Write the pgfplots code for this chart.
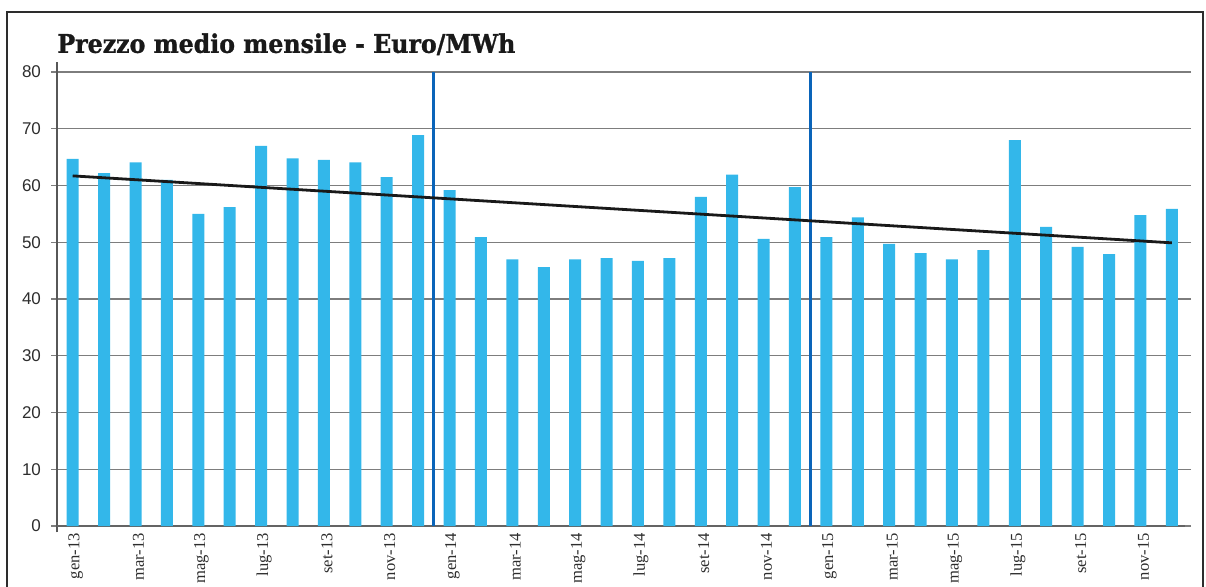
\documentclass[border=0pt]{standalone}
\usepackage{pgfplots}
\pgfplotsset{compat=1.18}
\usepackage{graphicx}
\usepackage{fontspec}
\setmainfont{Liberation Serif}
\newfontfamily\sansf{Liberation Sans}
\newfontfamily\titlef{DejaVu Serif}[BoldFeatures={FakeBold=1.2}]
\definecolor{barc}{RGB}{51,183,234}
\definecolor{vblue}{RGB}{10,100,185}
\definecolor{gridc}{RGB}{125,125,125}
\definecolor{txt}{RGB}{45,45,45}
\begin{document}
\begin{tikzpicture}
\useasboundingbox (0,0) rectangle (603pt,293pt);
\clip (0,0) rectangle (603pt,293pt);
\draw[txt, line width=0.6pt] (3.5pt,-5pt) -- (3.5pt,287pt) -- (601.5pt,287pt) -- (601.5pt,-5pt);
\node[anchor=base west, inner sep=0pt, text=black!90] at (28.5pt,266.6pt)
  {\resizebox{229pt}{\height}{\titlef\bfseries\fontsize{12.8pt}{14pt}\selectfont Prezzo medio mensile - Euro/MWh}};
\begin{axis}[
  at={(28.5pt,30pt)}, anchor=south west,
  scale only axis, width=564pt, height=227pt,
  xmin=-0.5, xmax=35.42, ymin=0, ymax=80,
  axis line style={draw=none},
  clip=false,
  ytick={0,10,...,80},
  ymajorgrids,
  grid style={gridc, line width=0.6pt},
  tick align=outside,
  major tick length=3pt,
  ytick style={gridc, line width=0.6pt},
  xtick={0,2,...,34},
  xticklabels={gen-13,mar-13,mag-13,lug-13,set-13,nov-13,gen-14,mar-14,mag-14,lug-14,set-14,nov-14,gen-15,mar-15,mag-15,lug-15,set-15,nov-15},
  xtick style={draw=none},
  xticklabel style={xshift=1.5pt, yshift=3pt, rotate=90, anchor=east, font=\fontsize{8.3pt}{9pt}\selectfont, text=txt},
  yticklabel style={font=\sansf\fontsize{8.5pt}{9pt}\selectfont, text=txt, xshift=-1.5pt},
  /pgf/number format/assume math mode=true,
]
\draw[gridc!70!black, line width=0.6pt] (axis cs:-0.5,-1.1) -- (axis cs:-0.5,81.8);
\draw[gridc!80!black, line width=0.7pt] (axis cs:-0.5,0) -- (axis cs:35.42,0);
\addplot[ybar, bar width=6pt, fill=barc, draw=none] coordinates {
(0,64.7) (1,62.2) (2,64.1) (3,61.0) (4,55.0) (5,56.2) (6,67.0) (7,64.8) (8,64.5) (9,64.1) (10,61.5) (11,68.9)
(12,59.2) (13,50.9) (14,47.0) (15,45.6) (16,47.0) (17,47.2) (18,46.7) (19,47.2) (20,58.0) (21,61.9) (22,50.6) (23,59.7)
(24,50.9) (25,54.4) (26,49.7) (27,48.1) (28,47.0) (29,48.6) (30,68.0) (31,52.7) (32,49.2) (33,47.9) (34,54.8) (35,55.9)
};
\addplot[vblue, line width=1.4pt] coordinates {(11.5,0) (11.5,80)};
\addplot[vblue, line width=1.4pt] coordinates {(23.5,0) (23.5,80)};
\addplot[black!90, line width=1.4pt] coordinates {(0,61.7) (35,49.9)};
\end{axis}
\end{tikzpicture}
\end{document}
